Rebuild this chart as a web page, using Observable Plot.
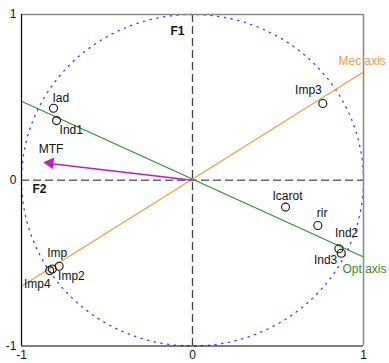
<!DOCTYPE html>
<html><head><meta charset="utf-8">
<script src="https://cdn.jsdelivr.net/npm/d3@7"></script>
<script src="https://cdn.jsdelivr.net/npm/@observablehq/plot@0.6"></script>
<style>body{margin:0;background:#fff}</style>
</head><body><div id="chart"></div>
<script>
// Variables (points)
const names = ["Iad","Ind1","Imp3","Icarot","rir","Ind2","Ind3","Imp","Imp2","Imp4"];
const xVals = [-0.813,-0.795,0.762,0.544,0.733,0.856,0.870,-0.820,-0.780,-0.835];
const yVals = [0.434,0.360,0.463,-0.162,-0.273,-0.413,-0.440,-0.535,-0.519,-0.545];
// Supplementary variable arrow
const mtf = {name:"MTF", x:-0.862, y:0.104};
// Axis lines endpoints
const mecX = [-1, 1], mecY = [-0.640, 0.653];
const optX = [-1, 1], optY = [0.477, -0.463];
const tickVals = [-1, 0, 1];

const pts = names.map((n,i)=>({name:n, x:xVals[i], y:yVals[i]}));
const circle = d3.range(0, 361, 1).map(a => ({x: Math.cos(a*Math.PI/180), y: Math.sin(a*Math.PI/180)}));
const mec = mecX.map((x,i)=>({x, y:mecY[i]}));
const opt = optX.map((x,i)=>({x, y:optY[i]}));

const orange = "#ee9a3a", green = "#2f8f2f", magenta = "#c01cc0";

function lab(list, anchor, dx, dy) {
  return Plot.text(pts.filter(d => list.includes(d.name)), {x:"x", y:"y", text:"name", textAnchor:anchor, dx, dy, fill:"#111", fontSize:12});
}

const chart = Plot.plot({
  width: 389, height: 363,
  marginLeft: 21, marginRight: 26, marginTop: 14, marginBottom: 17.5,
  style: {fontFamily: "'Liberation Sans', Arial, sans-serif", fontSize: "12px", background: "#fff", color: "#111", overflow: "visible"},
  x: {domain: [-1, 1], ticks: tickVals, tickSize: 0, tickPadding: 4, tickFormat: d => String(d), label: null},
  y: {domain: [-1, 1], ticks: tickVals, tickSize: 0, tickPadding: 5, tickFormat: d => String(d), label: null},
  marks: [
    Plot.line(circle, {x:"x", y:"y", stroke:"#3a3aff", strokeWidth:1.3, strokeDasharray:"1.3,5.5"}),
    Plot.ruleX([0], {stroke:"#444", strokeDasharray:"8,4", strokeWidth:1.3}),
    Plot.ruleY([0], {stroke:"#666", strokeDasharray:"8,4", strokeWidth:1.3}),
    Plot.line(mec, {x:"x", y:"y", stroke:orange, strokeWidth:1.1}),
    Plot.line(opt, {x:"x", y:"y", stroke:green, strokeWidth:1.1}),
    Plot.link([mtf], {x1:0, y1:0, x2:"x", y2:"y", stroke:magenta, strokeWidth:1.3}),
    Plot.dot([mtf], {x:"x", y:"y", symbol:"triangle", r:3.4, fill:magenta, stroke:magenta, rotate:-83, dx:5}),
    Plot.text([mtf], {x:"x", y:"y", text:"name", dx:6, dy:-14, fill:"#111", fontSize:12, textAnchor:"middle"}),
    Plot.dot(pts, {x:"x", y:"y", r:4, stroke:"#111", strokeWidth:1.1, fill:"none"}),
    lab(["Iad"], "start", -1, -10),
    lab(["Ind1"], "start", 3, 10),
    lab(["Imp3"], "end", -1, -13),
    lab(["Icarot"], "middle", 2, -11),
    lab(["rir"], "start", -1, -12),
    lab(["Ind2"], "start", -4, -16),
    lab(["Ind3"], "end", -4, 7),
    lab(["Imp"], "start", -5, -16),
    lab(["Imp2"], "start", -1, 10),
    lab(["Imp4"], "end", 1, 14),
    Plot.text([mec[1]], {x:"x", y:"y", text:() => "Mec axis", textAnchor:"start", dx:-25, dy:-11, fill:orange, fontSize:12}),
    Plot.text([opt[1]], {x:"x", y:"y", text:() => "Opt axis", textAnchor:"start", dx:-21, dy:12, fill:green, fontSize:12}),
    Plot.text([{x:0, y:1}], {x:"x", y:"y", text:() => "F1", textAnchor:"end", dx:-8, dy:17, fontWeight:"bold", fill:"#111", fontSize:12}),
    Plot.text([{x:-1, y:0}], {x:"x", y:"y", text:() => "F2", textAnchor:"start", dx:11, dy:9, fontWeight:"bold", fill:"#111", fontSize:12}),
    Plot.ruleY([1], {stroke:"#888", strokeWidth:1.5}),
    Plot.ruleX([1], {stroke:"#888", strokeWidth:1.5}),
    Plot.ruleX([-1], {stroke:"#000", strokeWidth:1.2}),
    Plot.ruleY([-1], {stroke:"#000", strokeWidth:1.2})
  ]
});
document.getElementById("chart").appendChild(chart);
</script>
</body></html>
